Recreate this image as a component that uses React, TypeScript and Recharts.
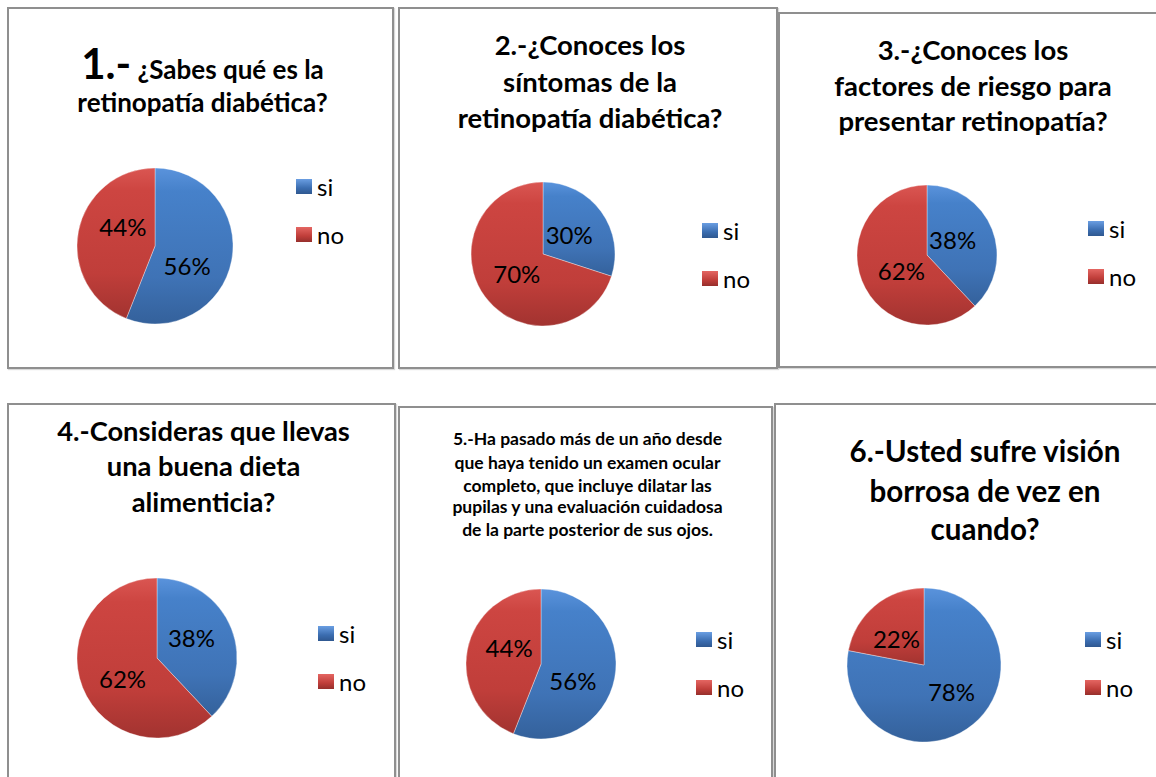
import React from "react";
import { PieChart, Pie, Cell, Legend } from "recharts";

const categories = ["si", "no"];
const q1Values = [56, 44];
const q2Values = [30, 70];
const q3Values = [38, 62];
const q4Values = [38, 62];
const q5Values = [56, 44];
const q6Values = [78, 22];

const FONT = "Lato, 'Open Sans', sans-serif";
const RADIAN = Math.PI / 180;

interface TitleLine {
  text: React.ReactNode;
  y: number; // line centre, relative to panel
}

interface PanelProps {
  id: string;
  left: number;
  top: number;
  width: number;
  height: number;
  values: number[];
  cx: number;
  cy: number;
  r: number;
  legendX: number;
  legendY: number;
  titleSize: number;
  titleCenterX?: number;
  titleLines: TitleLine[];
  // Excel's "best fit" labels sit a little off the mid angle
  labelTurn?: number;
  labelDist?: number;
}

function makeLabel(turn: number, dist: number) {
  return (props: any) => {
    const { cx, cy, midAngle, outerRadius, value } = props;
    const d = outerRadius * dist;
    const a = (midAngle - turn) * RADIAN;
    const x = cx + d * Math.cos(-a);
    const y = cy + d * Math.sin(-a);
    return (
      <text
        x={x}
        y={y}
        textAnchor="middle"
        dominantBaseline="central"
        fontSize={24}
        fontFamily={FONT}
        fill="#000"
      >
        {value}%
      </text>
    );
  };
}

function Panel(p: PanelProps) {
  const data = categories.map((name, i) => ({ name, value: p.values[i] }));
  const fills = [`url(#${p.id}-blue)`, `url(#${p.id}-red)`];
  const tcx = p.titleCenterX ?? p.width / 2;
  return (
    <div
      style={{
        position: "absolute",
        left: p.left,
        top: p.top,
        width: p.width,
        height: p.height,
        border: "2px solid #8f8f8f",
        boxSizing: "border-box",
        background: "#fff",
        boxShadow: "1px 1px 1px rgba(0,0,0,0.15)",
      }}
    >
      {p.titleLines.map((l, i) => (
        <div
          key={i}
          style={{
            position: "absolute",
            left: tcx - 300,
            width: 600,
            top: l.y - p.titleSize * 0.7,
            height: p.titleSize * 1.4,
            lineHeight: `${p.titleSize * 1.4}px`,
            textAlign: "center",
            whiteSpace: "nowrap",
            fontFamily: FONT,
            fontWeight: 700,
            fontSize: p.titleSize,
            color: "#000",
          }}
        >
          {l.text}
        </div>
      ))}
      <div style={{ position: "absolute", left: -2, top: -2 }}>
        <PieChart width={p.width} height={p.height} margin={{ top: 0, right: 0, bottom: 0, left: 0 }}>
          <defs>
            <linearGradient id={`${p.id}-blue`} x1="0" y1="0" x2="0" y2="1">
              <stop offset="0%" stopColor="#5a93dc" />
              <stop offset="15%" stopColor="#4681ca" />
              <stop offset="70%" stopColor="#3f73b6" />
              <stop offset="100%" stopColor="#34619b" />
            </linearGradient>
            <linearGradient id={`${p.id}-red`} x1="0" y1="0" x2="0" y2="1">
              <stop offset="0%" stopColor="#da5652" />
              <stop offset="15%" stopColor="#cd4541" />
              <stop offset="70%" stopColor="#c03e3a" />
              <stop offset="100%" stopColor="#a23330" />
            </linearGradient>
          </defs>
          <Pie
            data={data}
            dataKey="value"
            nameKey="name"
            cx={p.cx}
            cy={p.cy}
            outerRadius={p.r}
            startAngle={90}
            endAngle={-270}
            labelLine={false}
            label={makeLabel(p.labelTurn ?? 0, p.labelDist ?? 0.47)}
            stroke="rgba(255,255,255,0.35)"
            strokeWidth={1}
            isAnimationActive={false}
          >
            {data.map((d, i) => (
              <Cell key={d.name} fill={fills[i]} />
            ))}
          </Pie>
          <Legend
            layout="vertical"
            wrapperStyle={{ position: "absolute", left: p.legendX, top: p.legendY, width: 80 }}
            content={() => (
              <div>
                {categories.map((c, i) => (
                  <div
                    key={c}
                    style={{ display: "flex", alignItems: "center", height: 48, position: "relative", top: -16 }}
                  >
                    <span
                      style={{
                        display: "inline-block",
                        width: 16,
                        height: 15,
                        background: i === 0
                          ? "linear-gradient(#6a9ee2, #3b6db0 60%, #2f5890)"
                          : "linear-gradient(#e46662, #c03e3a 60%, #962f2c)",
                        marginRight: 5,
                      }}
                    />
                    <span style={{ fontFamily: FONT, fontSize: 24, color: "#000" }}>{c}</span>
                  </div>
                ))}
              </div>
            )}
          />
        </PieChart>
      </div>
    </div>
  );
}

export default function App() {
  return (
    <div
      style={{
        position: "absolute",
        left: 0,
        top: 0,
        width: 1156,
        height: 777,
        overflow: "hidden",
        background: "#fff",
      }}
    >
      <Panel
        id="p1"
        left={7}
        top={7}
        width={387}
        height={362}
        values={q1Values}
        cx={148}
        cy={239}
        r={78}
        legendX={289}
        legendY={171}
        labelTurn={20}
        labelDist={0.48}
        titleSize={26}
        titleLines={[
          {
            text: (
              <span>
                <span style={{ fontSize: 42 }}>1.-</span> ¿Sabes qué es la
              </span>
            ),
            y: 54,
          },
          { text: "retinopatía diabética?", y: 93 },
        ]}
      />
      <Panel
        id="p2"
        left={398}
        top={7}
        width={380}
        height={362}
        values={q2Values}
        cx={145}
        cy={247}
        r={72}
        legendX={304}
        legendY={215}
        labelTurn={0}
        labelDist={0.45}
        titleSize={27.5}
        titleLines={[
          { text: "2.-¿Conoces los", y: 36 },
          { text: "síntomas de la", y: 73 },
          { text: "retinopatía diabética?", y: 109 },
        ]}
      />
      <Panel
        id="p3"
        left={778}
        top={12}
        width={386}
        height={356}
        values={q3Values}
        cx={149}
        cy={243}
        r={70}
        legendX={310}
        legendY={208}
        labelTurn={-10}
        labelDist={0.43}
        titleSize={27.5}
        titleLines={[
          { text: "3.-¿Conoces los", y: 36 },
          { text: "factores de riesgo para", y: 72 },
          { text: "presentar retinopatía?", y: 107 },
        ]}
      />
      <Panel
        id="p4"
        left={7}
        top={403}
        width={389}
        height={390}
        values={q4Values}
        cx={150}
        cy={255}
        r={80}
        legendX={311}
        legendY={222}
        labelTurn={-9}
        labelDist={0.5}
        titleSize={27.3}
        titleLines={[
          { text: "4.-Consideras que llevas", y: 26 },
          { text: "una buena dieta", y: 61 },
          { text: "alimenticia?", y: 97 },
        ]}
      />
      <Panel
        id="p5"
        left={398}
        top={406}
        width={375}
        height={390}
        values={q5Values}
        cx={143}
        cy={258}
        r={75}
        legendX={298}
        legendY={225}
        labelTurn={17}
        labelDist={0.48}
        titleSize={17.5}
        titleLines={[
          { text: "5.-Ha pasado más de un año desde", y: 31 },
          { text: "que haya tenido un examen ocular", y: 55 },
          { text: "completo, que incluye dilatar las", y: 78 },
          { text: "pupilas y una evaluación cuidadosa", y: 99 },
          { text: "de la parte posterior de sus ojos.", y: 122 },
        ]}
      />
      <Panel
        id="p6"
        left={774}
        top={403}
        width={400}
        height={390}
        values={q6Values}
        cx={150}
        cy={262}
        r={77}
        legendX={311}
        legendY={228}
        labelTurn={-6}
        labelDist={0.5}
        titleSize={29.6}
        titleCenterX={209}
        titleLines={[
          { text: "6.-Usted sufre visión", y: 46 },
          { text: "borrosa de vez en", y: 86 },
          { text: "cuando?", y: 124 },
        ]}
      />
    </div>
  );
}
